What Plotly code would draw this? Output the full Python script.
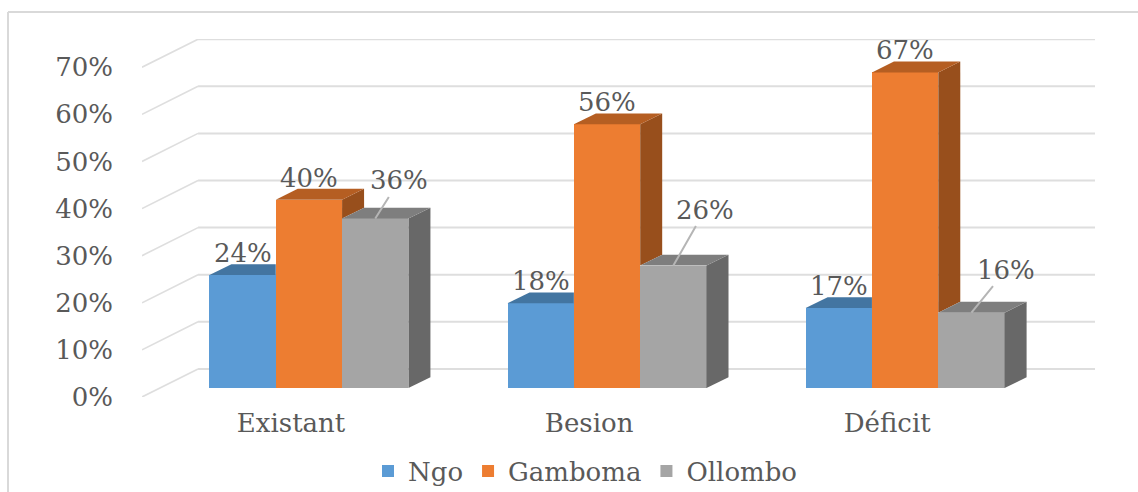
import plotly.graph_objects as go

categories = ["Existant", "Besion", "Déficit"]
series_names = ["Ngo", "Gamboma", "Ollombo"]
ngo = [24, 18, 17]
gamboma = [40, 56, 67]
ollombo = [36, 26, 16]
y_ticks = [0, 10, 20, 30, 40, 50, 60, 70]
y_tick_labels = ["0%", "10%", "20%", "30%", "40%", "50%", "60%", "70%"]

front_colors = ["#5B9BD5", "#ED7D31", "#A5A5A5"]
top_colors = ["#4375A1", "#B55E22", "#7E7E7E"]
side_colors = ["#3F6E97", "#984F1C", "#686868"]
TXT = "#595959"
GRID = "#DEDEDE"
FONT = "DejaVu Serif"
FS = 26

# Projection of the fake depth, in axis units
XMIN, XMAX = -0.5, 2.697
WALL_DX, WALL_DY = 0.188, 5.96
BAR_X0, BAR_BASE = 0.06, 1.9
BAR_W = 0.2225
DEPTH_DX, DEPTH_DY = 0.0738, 2.3

# label offsets in px, (dx, dy), for the labels on leader lines (third series)
leader_offsets = [(24, -38), (32, -56), (35, -43)]
label_lift = 22

fig = go.Figure()
values = [ngo, gamboma, ollombo]

for s, name in enumerate(series_names):
    fig.add_trace(go.Bar(
        x=[i + BAR_X0 + (s - 1) * BAR_W for i in range(3)],
        y=values[s], base=[BAR_BASE] * 3, width=BAR_W, name=name,
        marker=dict(color=front_colors[s], line=dict(width=0)),
        hoverinfo="skip",
    ))


def face(xs, ys, color):
    fig.add_trace(go.Scatter(
        x=xs, y=ys, mode="lines", fill="toself", fillcolor=color,
        line=dict(width=0, color=color), showlegend=False, hoverinfo="skip",
    ))


for i in range(3):
    for s in range(3):
        v = values[s][i] + BAR_BASE
        x0 = i + BAR_X0 + (s - 1.5) * BAR_W
        x1 = x0 + BAR_W
        nxt = values[s + 1][i] + BAR_BASE if s < 2 else BAR_BASE
        # side face, hidden below the top of the next bar
        if nxt < v:
            face([x1, x1 + DEPTH_DX, x1 + DEPTH_DX, x1],
                 [v, v + DEPTH_DY, nxt + DEPTH_DY, nxt], side_colors[s])
        # top face, cut where the next bar is taller
        right = x1 + DEPTH_DX if nxt < v else x1
        face([x0, x0 + DEPTH_DX, right, x1],
             [v, v + DEPTH_DY, v + DEPTH_DY, v], top_colors[s])

annotations = []
for i in range(3):
    for s in range(3):
        v = values[s][i] + BAR_BASE
        xc = i + BAR_X0 + (s - 1) * BAR_W
        text = f"{values[s][i]}%"
        if s < 2:
            annotations.append(dict(x=xc, y=v, text=text, showarrow=False,
                                    yshift=label_lift, yanchor="middle", xanchor="center"))
        else:
            ax, ay = leader_offsets[i]
            annotations.append(dict(x=xc, y=v, text=text, showarrow=True, arrowhead=0,
                                    arrowwidth=2, arrowcolor="#B5B5B5", ax=ax, ay=ay,
                                    axref="pixel", ayref="pixel"))

shapes = []
for t in y_ticks:
    shapes.append(dict(type="line", layer="below", x0=XMIN, y0=t, x1=XMIN + WALL_DX, y1=t + WALL_DY,
                       line=dict(color=GRID, width=1.6)))
    shapes.append(dict(type="line", layer="below", x0=XMIN + WALL_DX, y0=t + WALL_DY, x1=XMAX, y1=t + WALL_DY,
                       line=dict(color=GRID, width=2)))
# outer picture frame, left and top
shapes.append(dict(type="line", layer="below", xref="paper", yref="paper",
                   x0=-134 / 953, x1=-134 / 953, y0=-95 / 358, y1=27 / 358 + 1,
                   line=dict(color="#D9D9D9", width=2)))
shapes.append(dict(type="line", layer="below", xref="paper", yref="paper",
                   x0=-134 / 953, x1=1 + 43 / 953, y0=27 / 358 + 1, y1=27 / 358 + 1,
                   line=dict(color="#D9D9D9", width=2)))

fig.update_layout(
    width=1138, height=492,
    margin=dict(l=142, r=43, t=39, b=95, autoexpand=False),
    paper_bgcolor="white", plot_bgcolor="white",
    barmode="overlay", bargap=0,
    font=dict(family=FONT, size=FS, color=TXT),
    xaxis=dict(range=[XMIN, XMAX], tickmode="array", tickvals=[0, 1, 2], ticktext=categories,
               showgrid=False, zeroline=False, showline=False, ticks="", automargin=False,
               ticklabelstandoff=8, fixedrange=True),
    yaxis=dict(range=[0, 76], tickmode="array", tickvals=y_ticks, ticktext=y_tick_labels,
               showgrid=False, zeroline=False, showline=False, ticks="", automargin=False,
               ticklabelstandoff=28, fixedrange=True),
    legend=dict(orientation="h", xref="container", yref="container", x=585 / 1138, y=21 / 492,
                xanchor="center", yanchor="middle", font=dict(size=FS, color=TXT),
                itemwidth=30, bgcolor="rgba(0,0,0,0)"),
    shapes=shapes, annotations=annotations,
)
fig.write_html("out.html", config={"displayModeBar": False},
               post_script="document.body.style.margin='0';")
